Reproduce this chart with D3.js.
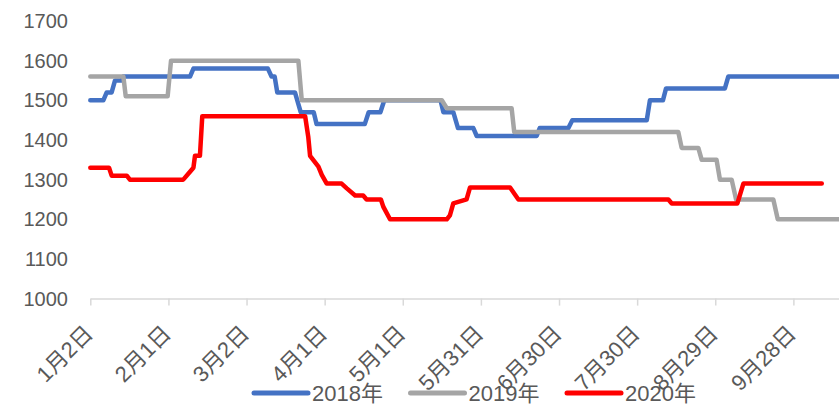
<!DOCTYPE html>
<html>
<head>
<meta charset="utf-8">
<script src="https://cdn.jsdelivr.net/npm/d3@7"></script>
<style>
body { margin: 0; background: #fff; }
text { font-family: "Liberation Sans", "Noto Sans CJK SC", sans-serif; fill: #595959; }
</style>
</head>
<body>
<div id="chart"></div>
<script>
// category axis: day index from 1月2日, labels every 30 days
var tickDays = [0, 30, 60, 90, 120, 150, 180, 210, 240, 270];
var tickLabels = ["1月2日", "2月1日", "3月2日", "4月1日", "5月1日", "5月31日", "6月30日", "7月30日", "8月29日", "9月28日"];
var yTicks = [1000, 1100, 1200, 1300, 1400, 1500, 1600, 1700];

var seriesNames = ["2018年", "2019年", "2020年"];
var seriesColors = ["#4472C4", "#A5A5A5", "#FF0000"];

// [day, price] points
var s2018 = [[0,1500],[5,1500],[6.3,1520],[8.2,1520],[9.5,1550],[12,1550],[12.7,1560],[38.3,1560],
  [39.6,1580],[68.2,1580],[69.6,1560],[70.8,1560],[71.8,1520],[78.6,1520],[80.8,1470],[85.8,1470],
  [86.9,1440],[105.4,1440],[106.9,1470],[111.4,1470],[112.9,1500],[134.5,1500],[135.6,1470],
  [139.4,1470],[141.2,1430],[147.1,1430],[148.4,1410],[171.4,1410],[172.6,1430],[183.6,1430],
  [185.1,1450],[213.7,1450],[214.9,1500],[219.9,1500],[221.1,1530],[243.7,1530],[245,1560],[290,1560]];
var s2019 = [[0,1560],[12.7,1560],[13.6,1510],[29.7,1510],[31,1600],[79.9,1600],[81.2,1500],
  [135,1500],[136.9,1480],[161.8,1480],[162.8,1420],[225.8,1420],[227.1,1380],[233.5,1380],
  [234.8,1350],[240.5,1350],[241.8,1300],[246.3,1300],[248,1250],[262.3,1250],[264,1200],[290,1200]];
var s2020 = [[0,1330],[7.2,1330],[8.2,1310],[14,1310],[15.2,1300],[35.7,1300],[38.3,1320],
  [39.6,1330],[40.2,1360],[42.1,1360],[43,1460],[82.5,1460],[83.7,1408],[84.4,1360],[87.6,1333],
  [88.9,1312],[90.8,1290],[96.5,1290],[98.5,1278],[101.7,1260],[104.8,1260],[106.1,1250],
  [111.6,1250],[112.5,1232],[115.1,1200],[136.9,1200],[138.1,1210],[139.4,1240],[144.5,1250],
  [145.8,1280],[161.2,1280],[164.4,1250],[222,1250],[223.3,1240],[248.5,1240],[250.8,1290],[280.9,1290]];

var width = 839, height = 406;

var x = d3.scaleLinear().domain([0, 290]).range([90.3, 90.3 + 290 * 2.604]);
var y = d3.scaleLinear().domain([1000, 1700]).range([298.6, 21]);

var svg = d3.select("#chart").append("svg")
    .attr("width", width)
    .attr("height", height);

// x axis line + ticks
var xAxis = d3.axisBottom(x)
    .tickValues(tickDays)
    .tickSize(7)
    .tickSizeOuter(0)
    .tickFormat("");

var gx = svg.append("g")
    .attr("transform", "translate(0," + y(1000) + ")")
    .call(xAxis);
gx.select(".domain").attr("stroke", "#d9d9d9").attr("stroke-width", 1.5);
gx.selectAll(".tick line").attr("stroke", "#d9d9d9").attr("stroke-width", 1.5);

svg.append("g").selectAll("text")
    .data(tickDays)
  .enter().append("text")
    .attr("transform", function(d) { return "translate(" + (x(d) + 4) + ",335) rotate(-45)"; })
    .attr("text-anchor", "end")
    .style("font-size", "22px")
    .text(function(d, i) { return tickLabels[i]; });

// y axis labels only
var yAxis = d3.axisLeft(y)
    .tickValues(yTicks)
    .tickFormat(d3.format("d"))
    .tickSize(0)
    .tickPadding(0);

var gy = svg.append("g")
    .attr("transform", "translate(68,0)")
    .call(yAxis);
gy.select(".domain").remove();
gy.selectAll("text")
    .style("font-size", "20px")
    .attr("fill", "#595959");

var line = d3.line()
    .x(function(d) { return x(d[0]); })
    .y(function(d) { return y(d[1]); });

var allSeries = [s2018, s2019, s2020];

svg.append("g").selectAll("path")
    .data(allSeries)
  .enter().append("path")
    .attr("d", line)
    .attr("fill", "none")
    .attr("stroke", function(d, i) { return seriesColors[i]; })
    .attr("stroke-width", 4.5)
    .attr("stroke-linejoin", "round")
    .attr("stroke-linecap", "round");

// legend
var legend = svg.append("g").selectAll("g")
    .data(seriesNames)
  .enter().append("g")
    .attr("transform", function(d, i) { return "translate(" + (254 + i * 156.5) + ",393)"; });

legend.append("line")
    .attr("x1", 0).attr("x2", 54)
    .attr("stroke", function(d, i) { return seriesColors[i]; })
    .attr("stroke-width", 5)
    .attr("stroke-linecap", "round");

legend.append("text")
    .attr("x", 58)
    .attr("y", 8)
    .style("font-size", "22px")
    .text(function(d) { return d; });
</script>
</body>
</html>
